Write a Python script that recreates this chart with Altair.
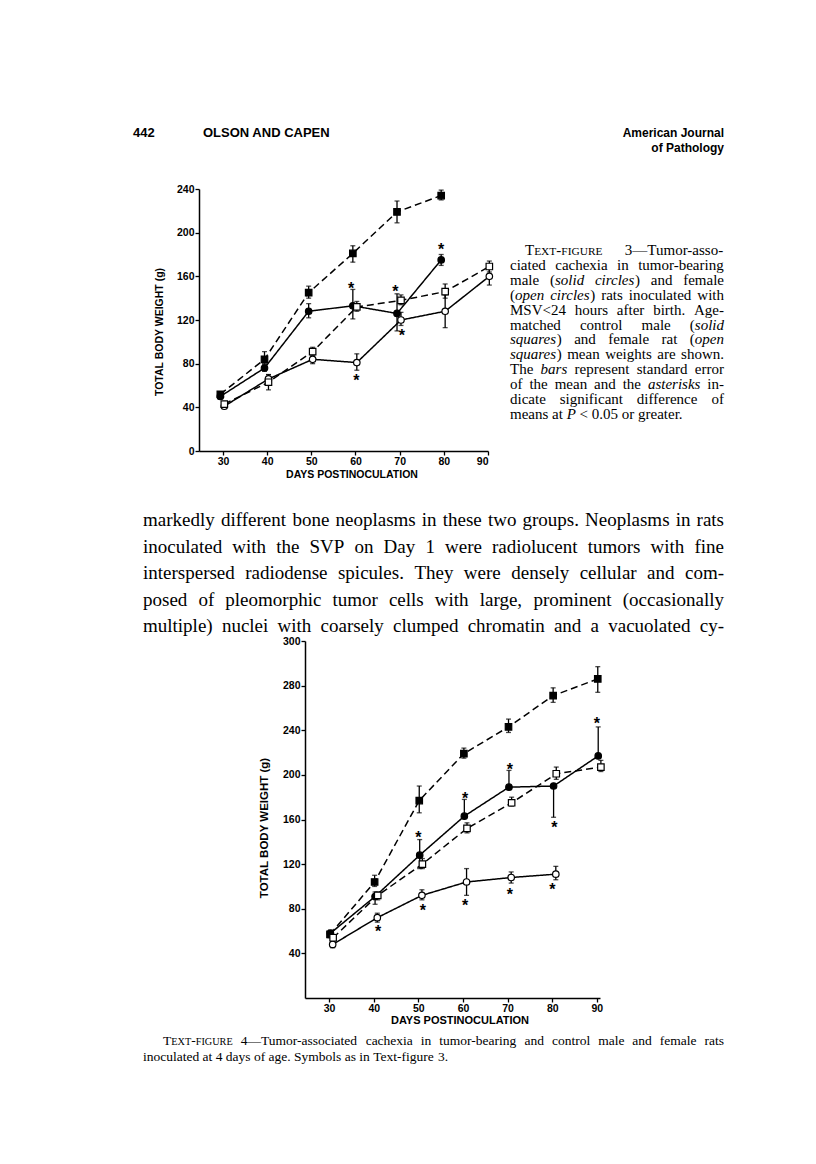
import altair as alt
import pandas as pd

DAYS = [30, 40, 50, 60, 70, 80, 90]
SERIES = ["control_male", "tumor_male", "tumor_female", "control_female"]

# ---- Text-figure 3 ----
f3_cm_mean = [52, 84, 145, 181, 219, 234, None]
f3_cm_lo = [50, 80, 140, 173, 209, 230, None]
f3_cm_hi = [54, 91, 151, 188, 229, 239, None]
f3_tm_mean = [50, 76, 128, 133, 126, 175, None]
f3_tm_lo = [48, 73, 122, 121, 110, 170, None]
f3_tm_hi = [52, 79, 135, 148, 144, 180, None]
f3_tf_mean = [41, 66, 84, 81, 120, 128, 160]
f3_tf_lo = [40, 62, 80, 74, 115, 113, 152]
f3_tf_hi = [43, 70, 87, 89, 127, 143, 167]
f3_cf_mean = [43, 63, 91, 132, 138, 146, 169]
f3_cf_lo = [41, 56, 88, 128, 134, 140, 164]
f3_cf_hi = [45, 70, 95, 137, 143, 153, 174]
f3_star_day = [59, 69, 79.4, 60.2, 70.5]
f3_star_val = [152, 149, 188, 68, 109]

# ---- Text-figure 4 ----
f4_cm_mean = [57, 104, 177, 219, 243, 271, 286]
f4_cm_lo = [54, 100, 166, 215, 238, 265, 274]
f4_cm_hi = [60, 110, 190, 224, 250, 278, 297]
f4_tm_mean = [58, 91, 128, 163, 189, 190, 217]
f4_tm_lo = [55, 84, 116, 163, 189, 162, 217]
f4_tm_hi = [61, 95, 142, 178, 204, 190, 243]
f4_tf_mean = [48, 72, 92, 104, 108, 111, None]
f4_tf_lo = [45, 68, 88, 92, 103, 106, None]
f4_tf_hi = [51, 76, 97, 116, 113, 118, None]
f4_cf_mean = [54, 92, 120, 152, 175, 201, 207]
f4_cf_lo = [51, 88, 116, 148, 172, 196, 203]
f4_cf_hi = [57, 95, 125, 157, 180, 207, 213]
f4_star_day = [50, 60.5, 70.5, 90, 80.5, 41, 51, 60.5, 70.5, 80]
f4_star_val = [147, 182, 208, 249, 156, 63, 82, 86, 96, 100]

Y3_TICKS = [0, 40, 80, 120, 160, 200, 240]
Y4_TICKS = [40, 80, 120, 160, 200, 240, 280, 320]
X_TICKS = [30, 40, 50, 60, 70, 80, 90]

HEADER_LEFT = ["442", "OLSON AND CAPEN"]
HEADER_RIGHT = ["American Journal", "of Pathology"]
# {...} = italic, [...] = small capitals
CAP3 = [
    "[Text-figure] 3—Tumor-asso-",
    "ciated cachexia in tumor-bearing",
    "male ({solid circles}) and female",
    "({open circles}) rats inoculated with",
    "MSV<24 hours after birth. Age-",
    "matched control male ({solid}",
    "{squares}) and female rat ({open}",
    "{squares}) mean weights are shown.",
    "The {bars} represent standard error",
    "of the mean and the {asterisks} in-",
    "dicate significant difference of",
    "means at {P} < 0.05 or greater.",
]
PARA = [
    "markedly different bone neoplasms in these two groups. Neoplasms in rats",
    "inoculated with the SVP on Day 1 were radiolucent tumors with fine",
    "interspersed radiodense spicules. They were densely cellular and com-",
    "posed of pleomorphic tumor cells with large, prominent (occasionally",
    "multiple) nuclei with coarsely clumped chromatin and a vacuolated cy-",
]
CAP4 = [
    "[Text-figure] 4—Tumor-associated cachexia in tumor-bearing and control male and female rats",
    "inoculated at 4 days of age. Symbols as in Text-figure 3.",
]
YTITLE = "TOTAL BODY WEIGHT (g)"
XTITLE = "DAYS POSTINOCULATION"

SERIF = "Liberation Serif"
SANS = "Liberation Sans"
W, H = 800, 1148

# Times-compatible advance widths (1/1000 em), used to justify lines like the page
ROMAN = {' ': 250, '!': 333, '"': 408, '(': 333, ')': 333, '*': 500, '+': 564, ',': 250,
         '-': 333, '.': 250, '/': 278, ':': 278, ';': 278, '<': 564, '=': 564, '>': 564,
         '?': 444, '—': 1000, "'": 180}
ROMAN.update({d: 500 for d in "0123456789"})
ROMAN.update(dict(zip("ABCDEFGHIJKLMNOPQRSTUVWXYZ",
                      [722, 667, 667, 722, 611, 556, 722, 722, 333, 389, 722, 611, 889, 722,
                       722, 556, 722, 667, 556, 611, 722, 722, 944, 722, 722, 611])))
ROMAN.update(dict(zip("abcdefghijklmnopqrstuvwxyz",
                      [444, 500, 444, 500, 444, 333, 500, 500, 278, 278, 500, 278, 778, 500,
                       500, 500, 500, 333, 389, 278, 500, 500, 722, 500, 500, 444])))
ITALIC = dict(ROMAN)
ITALIC.update(dict(zip("abcdefghijklmnopqrstuvwxyz",
                       [500, 500, 444, 500, 444, 278, 500, 500, 278, 278, 444, 278, 722, 500,
                        500, 500, 500, 389, 389, 278, 500, 444, 667, 444, 444, 389])))
ITALIC["P"] = 611


def parse_words(line):
    chars, style = [], "n"
    for c in line:
        if c == "{":
            style = "i"
        elif c == "[":
            style = "sc"
        elif c in "}]":
            style = "n"
        else:
            chars.append((c, style))
    words, cur = [], []
    for c, s in chars:
        if c == " ":
            if cur:
                words.append(cur)
            cur = []
        else:
            cur.append((c, s))
    if cur:
        words.append(cur)
    out = []
    for w in words:
        runs = []
        for c, s in w:
            if s == "sc":
                key = ("n", 0.76) if c.islower() else ("n", 1.0)
                c = c.upper()
            else:
                key = (s, 1.0)
            if runs and runs[-1][1] == key:
                runs[-1][0] += c
            else:
                runs.append([c, key])
        out.append(runs)
    return out


def run_width(text, key, size):
    table = ITALIC if key[0] == "i" else ROMAN
    return sum(table.get(ch, 500) for ch in text) * size * key[1] / 1000.0


def layout(lines, x0, x1, y0, lh, size, justified, indents=None):
    rows = []
    for i, line in enumerate(lines):
        words = parse_words(line)
        start = x0 + (indents[i] if indents else 0)
        widths = [sum(run_width(t, k, size) for t, k in w) for w in words]
        space = 250 * size / 1000.0
        if justified[i] and len(words) > 1:
            gap = (x1 - start - sum(widths)) / (len(words) - 1)
            gap = max(gap, 0.6 * space)
        else:
            gap = space
        x = start
        for w, ww in zip(words, widths):
            xx = x
            for t, k in w:
                rows.append(dict(text=t, x=xx, y=y0 + i * lh, size=size * k[1], style=k[0]))
                xx += run_width(t, k, size)
            x += ww + gap
    return rows


def words_layer(rows):
    df = pd.DataFrame(rows)
    layers = []
    for st, fs in (("n", "normal"), ("i", "italic")):
        sub = df[df["style"] == st]
        if len(sub) == 0:
            continue
        layers.append(alt.Chart(sub).mark_text(
            font=SERIF, fontStyle=fs, align="left", baseline="alphabetic", color="black"
        ).encode(
            x=alt.X("x:Q", scale=None, axis=None),
            y=alt.Y("y:Q", scale=None, axis=None),
            size=alt.Size("size:Q", scale=None, legend=None),
            text="text:N",
        ))
    return layers


def long_df(groups, dodge):
    rows = []
    for s, (m, lo, hi) in groups.items():
        for d, a, b, c in zip(DAYS, m, lo, hi):
            if a is None:
                continue
            rows.append(dict(series=s, day=d + dodge[s], mean=a, lo=b, hi=c))
    return pd.DataFrame(rows)


df3 = long_df({
    "control_male": (f3_cm_mean, f3_cm_lo, f3_cm_hi),
    "tumor_male": (f3_tm_mean, f3_tm_lo, f3_tm_hi),
    "tumor_female": (f3_tf_mean, f3_tf_lo, f3_tf_hi),
    "control_female": (f3_cf_mean, f3_cf_lo, f3_cf_hi),
}, {"control_male": -0.6, "tumor_male": -0.6, "tumor_female": 0.3, "control_female": 0.3})

df4 = long_df({
    "control_male": (f4_cm_mean, f4_cm_lo, f4_cm_hi),
    "tumor_male": (f4_tm_mean, f4_tm_lo, f4_tm_hi),
    "tumor_female": (f4_tf_mean, f4_tf_lo, f4_tf_hi),
    "control_female": (f4_cf_mean, f4_cf_lo, f4_cf_hi),
}, {"control_male": 0.2, "tumor_male": 0.3, "tumor_female": 0.8, "control_female": 0.9})

stars3 = pd.DataFrame({"day": f3_star_day, "val": f3_star_val})
stars4 = pd.DataFrame({"day": f4_star_day, "val": f4_star_val})

AX_STYLE = dict(
    grid=False, title=None, domainColor="black", domainWidth=1.5, tickColor="black",
    tickWidth=1.3, tickSize=4, labelColor="black", labelFont=SANS, labelFontSize=10.5,
    labelFontWeight="bold", labelPadding=1,
)


def figure(df, stars, xdom, xrng, ydom, yrng, yticks, ylabexpr=None):
    ax_x = alt.Axis(orient="bottom", offset=-(H - yrng[0]), values=X_TICKS, format="d",
                    **AX_STYLE)
    ykw = dict(AX_STYLE)
    if ylabexpr:
        ykw["labelExpr"] = ylabexpr
    ax_y = alt.Axis(orient="left", offset=-xrng[0], values=yticks, format="d", **ykw)
    sx = alt.Scale(domain=xdom, range=xrng, nice=False, zero=False)
    sy = alt.Scale(domain=ydom, range=yrng, nice=False, zero=False)
    X = alt.X("day:Q", scale=sx, axis=ax_x, title=None)

    def Y(f):
        return alt.Y(f, scale=sy, axis=ax_y, title=None)

    base = alt.Chart(df)
    lines = base.mark_line(color="black", strokeWidth=1.5).encode(
        x=X, y=Y("mean:Q"), detail="series:N",
        strokeDash=alt.StrokeDash("series:N", legend=None, scale=alt.Scale(
            domain=SERIES, range=[[7, 4], [1, 0], [1, 0], [7, 4]])),
    )
    rules = base.mark_rule(color="black", strokeWidth=1.3).encode(
        x=X, y=Y("lo:Q"), y2="hi:Q")
    cap_lo = base.mark_tick(color="black", orient="horizontal", size=5, thickness=1.3).encode(
        x=X, y=Y("lo:Q"))
    cap_hi = base.mark_tick(color="black", orient="horizontal", size=5, thickness=1.3).encode(
        x=X, y=Y("hi:Q"))
    pts = base.mark_point(filled=True, size=42, stroke="black", strokeWidth=1.2, opacity=1).encode(
        x=X, y=Y("mean:Q"),
        shape=alt.Shape("series:N", legend=None, scale=alt.Scale(
            domain=SERIES, range=["square", "circle", "circle", "square"])),
        fill=alt.Fill("series:N", legend=None, scale=alt.Scale(
            domain=SERIES, range=["black", "black", "white", "white"])),
    )
    st = alt.Chart(stars).mark_text(text="*", fontSize=16, fontWeight="bold", font=SANS,
                                    color="black", baseline="middle", dy=4).encode(
        x=X, y=Y("val:Q"))
    return alt.layer(lines, rules, cap_lo, cap_hi, pts, st)


ONE = pd.DataFrame({"k": [0]})


def label(text, x, y, size, font=SERIF, weight="normal", align="left", angle=None,
          baseline="alphabetic"):
    kw = dict(text=text, fontSize=size, font=font, fontWeight=weight, align=align,
              baseline=baseline, color="black")
    if angle is not None:
        kw["angle"] = angle
    return alt.Chart(ONE).mark_text(**kw).encode(x=alt.value(x), y=alt.value(y))


fig3 = figure(df3, stars3, [24.57, 90], [191, 480], [0, 240], [443, 181], Y3_TICKS)
fig4 = figure(df4, stars4, [24.6, 90.7], [297, 592], [0, 320], [990, 633], Y4_TICKS,
              ylabexpr="datum.value == 320 ? '300' : datum.label")

word_rows = []
word_rows += layout(CAP3, 502, 716, 247, 14.9, 15,
                    [True] * (len(CAP3) - 1) + [False], indents=[15] + [0] * (len(CAP3) - 1))
word_rows += layout(PARA, 135, 716, 518, 26.5, 19, [True] * len(PARA))
word_rows += layout(CAP4, 135, 716, 1037, 16, 13.5, [True, False], indents=[20, 0])

texts = [
    label(HEADER_LEFT[0], 125, 129, 13, SANS, "bold"),
    label(HEADER_LEFT[1], 195, 129, 13, SANS, "bold"),
    label(HEADER_RIGHT[0], 716, 129, 12, SANS, "bold", align="right"),
    label(HEADER_RIGHT[1], 716, 144, 12, SANS, "bold", align="right"),
    label(YTITLE, 152, 324, 10.5, SANS, "bold", align="center", angle=270, baseline="middle"),
    label(XTITLE, 344, 467, 10.5, SANS, "bold", align="center", baseline="middle"),
    label(YTITLE, 257, 820, 11.5, SANS, "bold", align="center", angle=270, baseline="middle"),
    label(XTITLE, 452, 1013, 11, SANS, "bold", align="center", baseline="middle"),
] + words_layer(word_rows)

chart = alt.layer(fig3, fig4, *texts).resolve_scale(
    x="independent", y="independent"
).properties(
    width=W, height=H, padding=0, autosize=alt.AutoSizeParams(type="none")
).configure_view(stroke=None)

chart.save("out.html", embed_options={"renderer": "svg", "actions": False})
